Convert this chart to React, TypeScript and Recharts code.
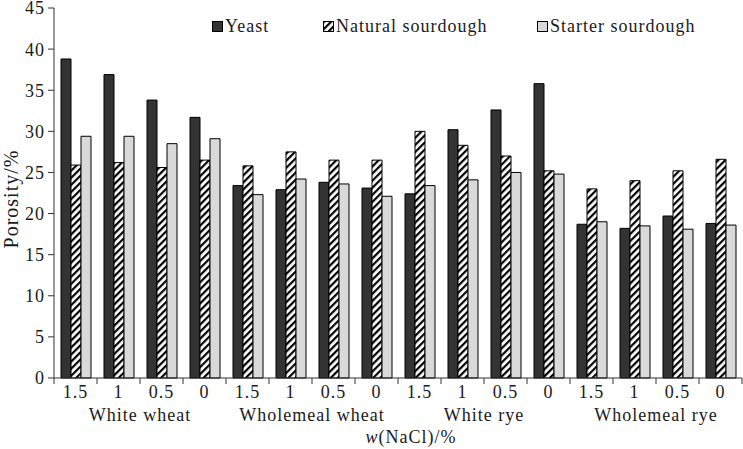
import React from "react";
import { BarChart, Bar, XAxis, YAxis } from "recharts";

const nacl = ["1.5", "1", "0.5", "0", "1.5", "1", "0.5", "0", "1.5", "1", "0.5", "0", "1.5", "1", "0.5", "0"];
const flours = ["White wheat", "Wholemeal wheat", "White rye", "Wholemeal rye"];
const yeast = [38.8, 36.9, 33.8, 31.7, 23.4, 22.9, 23.8, 23.1, 22.4, 30.2, 32.6, 35.8, 18.7, 18.2, 19.7, 18.8];
const natural = [25.9, 26.2, 25.6, 26.5, 25.8, 27.5, 26.5, 26.5, 30.0, 28.3, 27.0, 25.2, 23.0, 24.0, 25.2, 26.6];
const starter = [29.4, 29.4, 28.5, 29.1, 22.3, 24.2, 23.6, 22.1, 23.4, 24.1, 25.0, 24.8, 19.0, 18.5, 18.1, 18.6];
const yTicks = [0, 5, 10, 15, 20, 25, 30, 35, 40, 45];

const data = nacl.map((n, i) => ({
  key: `${flours[Math.floor(i / 4)]}-${n}-${i}`,
  nacl: n,
  yeast: yeast[i],
  natural: natural[i],
  starter: starter[i],
}));

const W = 743;
const H = 449;
const LEFT = 54;
const RIGHT = 742;
const TOP = 8;
const BOTTOM = 378;
const X_AXIS_H = 20;
const STEP = (RIGHT - LEFT) / nacl.length;
const FONT = "'Liberation Serif', 'Times New Roman', serif";
const TXT = "#1a1a1a";

const XTick = (props: any) => {
  const { x, payload } = props;
  const i = payload.index ?? props.index;
  const left = x - STEP / 2;
  return (
    <g>
      <line x1={left} y1={BOTTOM} x2={left} y2={BOTTOM + 6} stroke="#333" />
      {i === nacl.length - 1 && (
        <line x1={x + STEP / 2} y1={BOTTOM} x2={x + STEP / 2} y2={BOTTOM + 6} stroke="#333" />
      )}
      <text x={x} y={398} textAnchor="middle" fontSize={18} letterSpacing={1} fill={TXT} fontFamily={FONT}>
        {nacl[i]}
      </text>
      {i % 4 === 1 && (
        <text x={x + STEP / 2} y={421} textAnchor="middle" fontSize={18} letterSpacing={1} fill={TXT} fontFamily={FONT}>
          {flours[Math.floor(i / 4)]}
        </text>
      )}
      {i === 8 && (
        <text x={411} y={443} textAnchor="middle" fontSize={18} letterSpacing={1} fill={TXT} fontFamily={FONT}>
          <tspan fontStyle="italic">w</tspan>(NaCl)/%
        </text>
      )}
    </g>
  );
};

const legendItems = [
  { label: "Yeast", x: 212, fill: "#333333" },
  { label: "Natural sourdough", x: 323, fill: "url(#hatchLegend)" },
  { label: "Starter sourdough", x: 537, fill: "#d9d9d9" },
];

export default function App() {
  return (
    <div style={{ position: "absolute", left: 0, top: 0, width: W, height: H, background: "#fff" }}>
      <BarChart
        width={W}
        height={H}
        data={data}
        margin={{ top: TOP, right: W - RIGHT, bottom: H - BOTTOM - X_AXIS_H, left: 0 }}
        barCategoryGap={7}
        barGap={0}
      >
        <defs>
          <pattern id="hatch" patternUnits="userSpaceOnUse" width={5} height={5} patternTransform="rotate(45)">
            <rect width={5} height={5} fill="#fff" />
            <rect x={0} y={0} width={2.2} height={5} fill="#000" />
          </pattern>
        </defs>
        <XAxis
          dataKey="key"
          height={X_AXIS_H}
          interval={0}
          tickLine={false}
          tick={<XTick />}
          stroke="#333"
        />
        <YAxis
          width={LEFT}
          domain={[0, 45]}
          ticks={yTicks}
          interval={0}
          stroke="#333"
          tickSize={6}
          tickMargin={3}
          tick={{ fontSize: 18, fill: TXT, fontFamily: FONT, letterSpacing: 1 }}
          label={{
            value: "Porosity/%",
            angle: -90,
            position: "insideLeft",
            dx: 6,
            dy: 6,
            style: { fontSize: 20, fill: TXT, fontFamily: FONT, letterSpacing: 1, textAnchor: "middle" },
          }}
        />
        <Bar dataKey="yeast" name="Yeast" fill="#333333" stroke="#000" strokeWidth={1} isAnimationActive={false} />
        <Bar dataKey="natural" name="Natural sourdough" fill="url(#hatch)" stroke="#000" strokeWidth={1} isAnimationActive={false} />
        <Bar dataKey="starter" name="Starter sourdough" fill="#d9d9d9" stroke="#000" strokeWidth={1} isAnimationActive={false} />
      </BarChart>
      <svg width={W} height={30} style={{ position: "absolute", left: 0, top: 12 }}>
        <defs>
          <pattern id="hatchLegend" patternUnits="userSpaceOnUse" width={5} height={5} patternTransform="rotate(45)">
            <rect width={5} height={5} fill="#fff" />
            <rect x={0} y={0} width={2.2} height={5} fill="#000" />
          </pattern>
        </defs>
        {legendItems.map((it) => (
          <g key={it.label}>
            <rect x={it.x + 0.5} y={9.5} width={10} height={10} fill={it.fill} stroke="#000" />
            <text x={it.x + 13} y={20} fontSize={18} letterSpacing={1} fill={TXT} fontFamily={FONT}>
              {it.label}
            </text>
          </g>
        ))}
      </svg>
    </div>
  );
}
